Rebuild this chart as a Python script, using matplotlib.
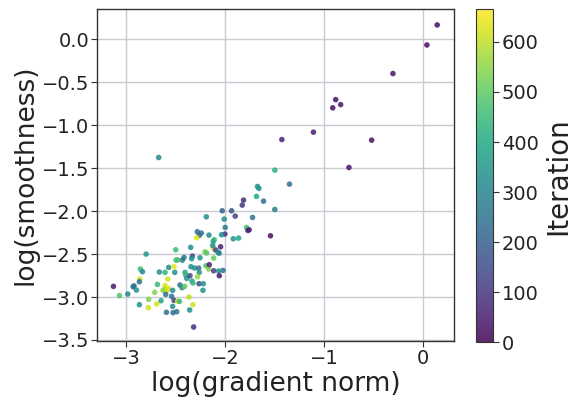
import matplotlib
matplotlib.use("Agg")
import matplotlib.pyplot as plt

# log(gradient norm), log(smoothness), iteration
grad_norm = [0.142, 0.038, -0.305, -0.883, -0.913, -0.833, -1.108, -1.427, -0.520, -0.749,
             -2.671, -1.498, -1.350, -1.673, -1.659, -1.683, -1.612, -1.814, -1.827, -1.498,
             -2.029, -1.935, -1.898, -1.723, -2.009, -2.190, -1.999, -1.784, -1.770, -1.757,
             -1.542, -2.002, -2.036, -1.918, -1.864, -2.281, -2.241, -2.261, -2.163, -2.288,
             -2.110, -2.120, -2.046, -2.120, -2.125, -2.096, -2.069, -2.348, -2.499, -2.204,
             -2.187, -2.798, -2.254, -2.331, -2.338, -2.415, -2.432, -2.496, -2.480, -2.116,
             -2.060, -2.856, -2.835, -2.570, -2.516, -2.664, -2.607, -2.509, -2.345, -2.308,
             -2.267, -2.261, -2.194, -2.167, -2.160, -2.116, -2.022, -2.066, -2.059, -2.862,
             -2.866, -2.580, -2.405, -2.398, -2.388, -2.355, -2.278, -2.335, -2.325, -2.264,
             -2.220, -2.224, -2.456, -2.435, -2.409, -2.684, -2.607, -2.607, -2.573, -2.627,
             -2.590, -2.530, -2.711, -2.600, -3.128, -3.067, -2.983, -2.929, -2.920, -2.896,
             -2.365, -2.647, -2.772, -2.516, -2.540, -2.479, -2.462, -2.691, -2.866, -2.775,
             -2.325, -2.530, -2.358, -2.593, -2.526, -2.489, -2.318]
smoothness = [0.167, -0.066, -0.399, -0.702, -0.798, -0.760, -1.081, -1.167, -1.174, -1.492,
              -1.376, -1.523, -1.686, -1.713, -1.736, -1.829, -1.884, -1.872, -1.930, -1.981,
              -1.996, -1.996, -2.058, -2.074, -2.093, -2.066, -2.190, -2.190, -2.225, -2.217,
              -2.287, -2.267, -2.275, -2.322, -2.314, -2.240, -2.256, -2.283, -2.279, -2.310,
              -2.333, -2.352, -2.415, -2.430, -2.400, -2.453, -2.481, -2.422, -2.450, -2.473,
              -2.488, -2.500, -2.543, -2.523, -2.554, -2.539, -2.570, -2.570, -2.568, -2.547,
              -2.490, -2.674, -2.705, -2.655, -2.647, -2.709, -2.713, -2.713, -2.647, -2.663,
              -2.663, -2.713, -2.636, -2.674, -2.624, -2.694, -2.690, -2.697, -2.752, -2.791,
              -2.822, -2.791, -2.713, -2.744, -2.783, -2.752, -2.764, -2.814, -2.837, -2.845,
              -2.845, -2.922, -2.860, -2.891, -2.876, -2.853, -2.868, -2.915, -2.898, -2.922,
              -2.922, -2.922, -2.946, -2.969, -2.876, -2.984, -2.965, -2.880, -2.870, -2.919,
              -3.000, -3.043, -3.027, -3.039, -2.992, -3.050, -3.050, -3.081, -3.089, -3.124,
              -3.089, -3.109, -3.151, -3.178, -3.182, -3.171, -3.349]
iteration = [20, 25, 35, 30, 28, 40, 45, 65, 30, 35,
             300, 420, 250, 330, 340, 400, 230, 80, 100, 280,
             200, 170, 130, 250, 320, 330, 270, 470, 60, 55,
             30, 100, 320, 330, 380, 230, 250, 240, 320, 640,
             450, 400, 60, 620, 330, 120, 330, 320, 450, 530,
             500, 360, 330, 150, 330, 260, 250, 460, 470, 500,
             310, 460, 300, 330, 640, 330, 430, 330, 330, 340,
             240, 330, 480, 540, 60, 120, 250, 330, 40, 620,
             250, 620, 400, 450, 330, 140, 560, 400, 450, 160,
             330, 340, 250, 330, 500, 450, 620, 560, 640, 550,
             620, 330, 540, 250, 50, 480, 300, 240, 250, 330,
             600, 380, 530, 120, 250, 640, 450, 620, 330, 620,
             620, 330, 340, 240, 240, 250, 80]

fig = plt.figure(figsize=(5.73, 4.01), dpi=100)
ax = fig.add_axes([0.170, 0.150, 0.622, 0.827])
cax = fig.add_axes([0.831, 0.146, 0.030, 0.831])

ax.grid(True, color="#c9cbd3", linewidth=1.0, zorder=0)
ax.set_axisbelow(True)
sc = ax.scatter(grad_norm, smoothness, c=iteration, cmap="viridis", vmin=0, vmax=665,
                s=16, linewidths=0, alpha=0.85, zorder=3)

ax.set_xlim(-3.29, 0.31)
ax.set_ylim(-3.51, 0.35)
ax.set_xticks([-3, -2, -1, 0])
ax.set_yticks([-3.5, -3.0, -2.5, -2.0, -1.5, -1.0, -0.5, 0.0])
ax.set_xlabel("log(gradient norm)", fontsize=19, color="#222222", labelpad=2)
ax.set_ylabel("log(smoothness)", fontsize=19, color="#222222", labelpad=2)
ax.tick_params(labelsize=14, colors="#333333", length=4, labelcolor="#222222", pad=2)
for sp in ax.spines.values():
    sp.set_color("#333333")
    sp.set_linewidth(1.0)

cb = fig.colorbar(sc, cax=cax)
cb.set_ticks([0, 100, 200, 300, 400, 500, 600])
cb.ax.tick_params(labelsize=14, colors="#333333", length=4, labelcolor="#222222", pad=2)
cb.outline.set_edgecolor("#333333")
cb.set_label("Iteration", fontsize=20, color="#222222")

fig.savefig("out.png", dpi=100)
